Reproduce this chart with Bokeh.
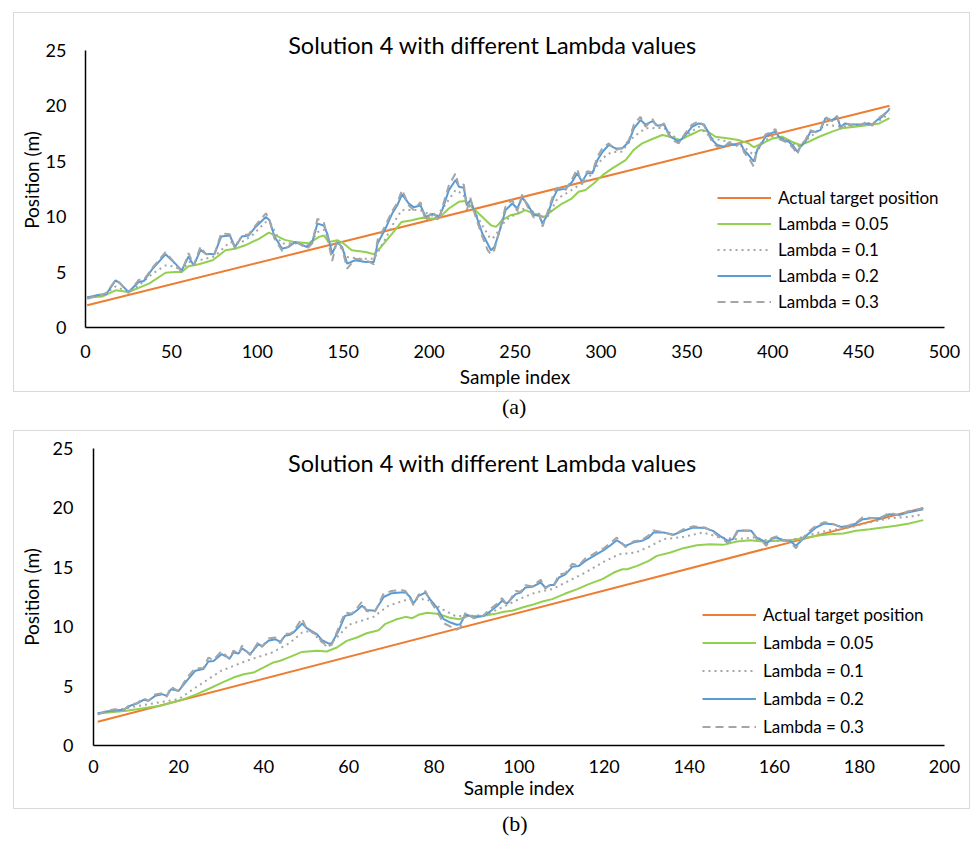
from bokeh.plotting import figure
from bokeh.models import Label, FixedTicker, Legend, LegendItem, Div
from bokeh.layouts import column
from bokeh.embed import file_html
from bokeh.resources import INLINE

TITLE = "Solution 4 with different Lambda values"
LEGEND_LABELS = ["Actual target position", "Lambda = 0.05", "Lambda = 0.1", "Lambda = 0.2", "Lambda = 0.3"]

# ---------------- Panel (a) data ----------------
a_actual_x = [1, 468]
a_actual_y = [2.0, 20.0]

a_l005_x = [1, 10, 17.5, 25, 37, 46.6, 52, 56, 60, 66, 74, 81.5, 87, 93, 101, 106.7, 110.6, 116, 122, 130, 136, 138.7,
            141.6, 146.5, 150, 155, 163, 168, 172, 178.5, 184, 190, 196, 202, 206.6, 211.5, 217.3, 221, 225, 231, 236,
            239, 242.5, 247.4, 252, 256, 261, 267, 272, 277.5, 283, 287, 291, 296, 301, 306.6, 314.4, 319, 324, 330,
            335.7, 340.5, 346, 352, 358, 362, 366.7, 374.5, 380, 386, 389, 394, 400, 405.5, 411, 416, 421, 427, 434.6,
            440, 448, 456, 462, 468]
a_l005_y = [2.7, 2.8, 3.35, 3.2, 3.95, 4.94, 5.0, 5.0, 5.52, 5.7, 6.06, 6.96, 7.1, 7.41, 8.0, 8.55, 8.3, 7.9, 7.7, 7.6,
            8.17, 8.3, 7.7, 7.87, 7.6, 6.96, 6.8, 6.6, 7.26, 8.47, 9.52, 9.67, 9.9, 9.8, 10.0, 10.73, 11.33, 11.4, 10.85,
            9.97, 9.22, 9.07, 9.67, 10.13, 10.28, 10.58, 10.28, 9.97, 10.58, 11.18, 11.63, 12.24, 12.4, 13.0, 13.74,
            14.35, 15.1, 16.0, 16.6, 17.0, 17.36, 17.2, 16.9, 17.36, 17.8, 17.7, 17.2, 17.05, 16.9, 16.6, 16.25, 16.6,
            17.05, 17.2, 16.75, 16.46, 16.75, 17.2, 17.66, 17.96, 18.1, 18.25, 18.4, 18.87]

a_l01_x = [1, 10, 17.5, 25, 31, 39, 46.6, 52, 56, 60, 66, 75, 84, 90, 97, 104.8, 108, 114, 122, 130, 135, 139, 143, 147,
           152, 160, 168, 174.6, 180, 184, 190, 195, 200, 204, 210, 215.4, 220, 222, 227, 231, 235.7, 238, 244.5, 251,
           257, 264, 269, 274.6, 283, 292, 300.8, 306, 312, 319, 326, 336.7, 345, 352, 357, 364.8, 374.5, 383, 389,
           395.8, 401.6, 409, 414.3, 422, 430.7, 440, 451, 461, 468]
a_l01_y = [2.7, 2.9, 3.7, 3.2, 3.8, 4.85, 5.6, 5.5, 5.1, 5.9, 6.06, 6.4, 7.7, 7.6, 8.3, 9.5, 9.3, 7.57, 7.6, 7.4, 8.6,
           8.8, 7.4, 7.6, 6.36, 6.2, 6.2, 8.0, 9.6, 10.58, 10.6, 10.58, 10.2, 9.97, 11.2, 12.4, 12.0, 11.2, 10.3, 9.2,
           8.0, 8.17, 9.67, 10.28, 10.9, 9.97, 9.97, 11.6, 12.4, 13.3, 15.25, 15.8, 15.85, 17.2, 17.96, 18.0, 16.9,
           17.6, 18.1, 17.05, 16.75, 16.3, 15.55, 16.9, 17.36, 16.9, 16.3, 17.2, 18.3, 18.1, 18.3, 18.55, 19.3]

a_l02_x = [1, 8, 12, 17.5, 20, 25, 31, 34, 39, 46.6, 52, 56, 60, 63, 67, 70, 75, 79, 84, 87, 91, 95, 99, 105, 107, 110,
           114.5, 118, 122, 129, 132, 135, 138.7, 140.7, 143.6, 146.5, 149.4, 152.3, 157, 163, 167.8, 170, 174.6, 178.5,
           181.4, 184.3, 188.2, 191, 195, 198, 202, 205.7, 207.6, 211.5, 215.4, 217.3, 220.2, 222, 224, 227, 231, 234,
           236, 238, 240.6, 244.5, 248.4, 251.3, 254.2, 257, 261, 264, 266, 268.7, 272.6, 274.6, 279.4, 283.3, 286.2,
           289, 292, 295, 298, 301, 304.6, 308.5, 312.4, 316.3, 319.2, 323, 326, 330, 333, 336.7, 340.5, 345.3, 349,
           353, 357, 360, 363, 364.8, 367.7, 371.6, 374.5, 378.4, 381.3, 383.3, 386, 389, 391, 393, 395.8, 398.7,
           401.6, 403.6, 406.5, 409.4, 412.3, 414.3, 416.2, 419, 422, 425, 427.8, 430.7, 434.6, 437.5, 439.4, 442.3,
           445, 448, 451, 454, 458, 460.7, 463.7, 467.5, 468]
a_l02_y = [2.7, 2.95, 3.0, 4.25, 4.0, 3.2, 4.1, 4.2, 5.3, 6.6, 5.8, 5.15, 6.4, 5.6, 7.0, 6.66, 6.6, 8.2, 8.3, 7.26, 8.2,
           8.3, 9.07, 9.97, 9.7, 8.2, 7.1, 7.25, 7.7, 7.26, 7.7, 9.37, 9.2, 8.47, 6.66, 7.7, 7.26, 5.76, 6.06, 5.9,
           5.9, 7.57, 8.92, 10.28, 11.0, 12.0, 11.17, 10.85, 11.0, 9.97, 10.25, 9.97, 10.58, 12.39, 13.3, 12.7, 12.6,
           11.0, 11.5, 10.28, 8.47, 7.57, 6.96, 7.26, 8.47, 10.58, 11.18, 10.73, 11.72, 11.18, 10.13, 10.13, 9.37,
           10.13, 11.78, 12.39, 12.5, 13.14, 13.9, 13.14, 13.9, 13.9, 15.1, 15.85, 16.46, 16.15, 16.15, 16.75, 17.96,
           18.7, 18.3, 18.6, 18.2, 18.3, 17.2, 16.75, 17.3, 18.1, 18.4, 18.3, 17.5, 16.9, 16.46, 16.3, 16.6, 16.46,
           16.6, 16.0, 15.55, 14.95, 16.0, 16.46, 17.2, 17.5, 17.66, 17.2, 16.9, 16.75, 16.3, 15.85, 16.3, 16.75,
           17.66, 17.66, 17.8, 18.87, 18.7, 19.0, 18.1, 18.4, 18.3, 18.3, 18.3, 18.4, 18.3, 18.7, 19.0, 19.6, 19.75]

a_l03_x = a_l02_x
a_l03_y = [2.6, 2.9, 3.1, 4.3, 4.0, 3.1, 4.3, 4.3, 5.4, 6.8, 5.8, 5.0, 6.7, 5.6, 7.3, 6.6, 6.6, 8.5, 8.4, 7.1, 8.3, 8.4,
           9.2, 10.3, 9.8, 8.0, 6.9, 7.3, 7.8, 7.1, 7.6, 9.8, 9.5, 8.2, 6.0, 7.9, 7.1, 5.3, 6.2, 6.1, 5.7, 7.9, 9.2,
           10.5, 11.2, 12.4, 11.0, 10.6, 11.3, 9.6, 10.5, 9.6, 10.8, 12.8, 13.9, 12.7, 12.9, 10.6, 11.7, 10.0, 8.2,
           7.0, 6.6, 7.0, 8.6, 10.9, 11.5, 10.5, 12.0, 11.0, 9.9, 10.3, 9.1, 10.3, 12.1, 12.6, 12.4, 13.4, 14.3, 12.9,
           14.1, 14.0, 15.4, 16.2, 16.6, 16.0, 16.2, 16.9, 18.3, 19.0, 18.1, 18.8, 18.0, 18.4, 17.0, 16.6, 17.5, 18.3,
           18.6, 18.2, 17.3, 16.7, 16.3, 16.2, 16.7, 16.3, 16.7, 15.8, 15.3, 14.5, 16.1, 16.6, 17.4, 17.6, 17.9, 17.0,
           16.8, 16.6, 16.1, 15.6, 16.4, 16.9, 17.8, 17.6, 17.9, 19.0, 18.6, 19.1, 17.9, 18.5, 18.2, 18.4, 18.2, 18.5,
           18.2, 18.8, 19.1, 19.6, 19.8]

# ---------------- Panel (b) data ----------------
b_actual_x = [1, 195]
b_actual_y = [2.0, 20.0]

b_l005_x = [1, 7.8, 15.7, 21.2, 24.3, 27.4, 30.6, 32.9, 35.3, 37.6, 40, 42.3, 43.9, 46.2, 49, 52.5, 54.8, 57.2, 59.5,
            61.9, 64.2, 67, 68.5, 70.9, 73.3, 74.9, 76.4, 78.4, 81.2, 83.5, 85.9, 88.2, 91.4, 94.1, 96.5, 98.4, 100.8,
            103.1, 105.5, 107.8, 110.9, 113.7, 116.4, 119.6, 122.3, 124.3, 125.4, 127.8, 130.5, 132.4, 135.6, 138.6,
            141.8, 144.9, 148, 151.2, 154.3, 157.4, 160.5, 163.6, 166.8, 169.9, 173, 176.2, 179.2, 182.4, 185.5, 188.6,
            191.7, 195]
b_l005_y = [2.69, 2.92, 3.34, 3.9, 4.32, 4.82, 5.36, 5.72, 6.0, 6.14, 6.57, 6.99, 7.13, 7.46, 7.88, 7.97, 7.91, 8.25,
            8.81, 9.09, 9.45, 9.7, 10.21, 10.58, 10.83, 10.72, 11.0, 11.17, 11.06, 10.77, 10.63, 10.91, 10.91, 11.06,
            11.25, 11.34, 11.62, 11.84, 12.12, 12.32, 12.79, 13.16, 13.58, 14.0, 14.56, 14.84, 14.84, 15.12, 15.54,
            15.96, 16.24, 16.61, 16.86, 16.94, 16.89, 17.17, 17.28, 17.17, 17.23, 17.28, 17.45, 17.65, 17.79, 17.85,
            18.07, 18.2, 18.35, 18.49, 18.69, 18.97]

b_l01_x = [1, 10, 20, 24, 30, 36, 42, 46, 49, 51, 55, 60, 65.8, 69.3, 74, 78.4, 81.9, 85, 88.2, 92.2, 96, 100, 103.9,
           107.8, 111.7, 115.6, 119.6, 123.5, 127.4, 130.5, 134, 138.6, 143.3, 147.2, 151.2, 155, 159, 163.6, 168.3,
           173, 177.7, 182.4, 187.1, 191.7, 195]
b_l01_y = [2.7, 3.3, 3.9, 4.88, 6.29, 7.13, 7.83, 8.6, 9.5, 9.65, 8.25, 10.16, 10.83, 11.76, 12.32, 12.3, 11.48, 10.91,
           10.9, 11.0, 11.62, 12.32, 12.88, 13.16, 13.86, 14.56, 15.4, 16.1, 16.24, 16.72, 17.37, 17.56, 17.93, 17.51,
           17.37, 17.51, 17.23, 17.23, 17.74, 18.13, 18.35, 18.77, 19.13, 19.24, 19.47]

b_l02_x = [1, 3, 5, 7, 8.6, 10.2, 11.75, 12.9, 14.5, 16.1, 17.2, 18.2, 20, 21.9, 23.9, 25.8, 27, 28.2, 30.1, 32, 32.9,
           34.1, 34.9, 36.8, 38.8, 39.6, 41.1, 42.7, 43.9, 45, 46.2, 47, 49, 50.1, 52.5, 53.7, 55.2, 56, 57.6, 59.1,
           60.7, 62, 63.1, 64.2, 66.2, 68.2, 70.1, 72.1, 73.3, 74.4, 75.2, 76.4, 78, 79.1, 80.7, 82.3, 83.9, 85.4, 86.2,
           87.4, 89.4, 91.7, 92.9, 94.9, 96, 97.2, 99.2, 100.4, 101.5, 103.1, 105.1, 106.2, 107.4, 108.2, 109.4, 110.9,
           112.5, 114, 115.6, 116.8, 118.3, 119.9, 121.5, 123, 125, 127, 128.9, 130.5, 131.6, 134, 136.3, 138.6, 141,
           143.7, 145.6, 147.2, 149.1, 150.3, 151.5, 153, 154.6, 155.8, 157.4, 158.1, 159.3, 160.5, 162, 163.6, 165.1,
           166.3, 167.9, 169.8, 171.8, 173.8, 175.7, 177.7, 179.2, 180.8, 182.8, 184.7, 187.1, 189.4, 191.3, 193.3, 195]
b_l02_y = [2.7, 2.86, 2.95, 3.0, 3.34, 3.53, 3.85, 3.77, 4.18, 4.32, 4.18, 4.74, 4.6, 5.44, 6.29, 6.43, 7.07, 7.12,
           7.69, 7.33, 7.83, 7.74, 8.19, 7.69, 8.53, 8.33, 8.81, 8.95, 8.73, 9.23, 9.32, 9.51, 10.27, 9.88, 9.37, 8.87,
           8.59, 8.6, 9.65, 10.91, 11.05, 11.4, 11.76, 11.4, 11.34, 12.5, 12.82, 12.87, 12.9, 12.5, 11.95, 12.6, 12.87,
           12.3, 11.6, 10.63, 10.35, 10.16, 10.2, 11.05, 10.77, 10.9, 11.2, 11.76, 12.18, 11.95, 12.74, 12.87, 13.3,
           13.36, 13.72, 13.3, 13.5, 13.5, 14.14, 14.4, 15.04, 15.1, 15.54, 15.8, 16.1, 16.44, 16.86, 17.28, 16.8,
           17.1, 17.23, 17.5, 17.93, 17.93, 17.74, 18.07, 18.35, 18.3, 18.07, 17.65, 17.23, 17.37, 18.07, 18.07, 18.07,
           17.51, 17.23, 16.96, 17.37, 17.51, 17.3, 17.23, 16.81, 17.23, 17.79, 18.35, 18.69, 18.63, 18.4, 18.5, 18.69,
           19.05, 19.13, 19.13, 19.47, 19.4, 19.61, 19.75, 19.89]

b_l03_x = b_l02_x
b_l03_y = [2.6, 2.9, 3.05, 2.95, 3.45, 3.55, 4.0, 3.75, 4.3, 4.4, 4.1, 4.95, 4.55, 5.7, 6.5, 6.5, 7.4, 7.2, 7.95, 7.25,
           8.0, 7.7, 8.4, 7.6, 8.75, 8.3, 9.0, 9.1, 8.6, 9.4, 9.4, 9.6, 10.7, 9.8, 9.3, 8.7, 8.35, 8.5, 9.9, 11.2, 11.1,
           11.6, 12.1, 11.3, 11.3, 12.8, 13.0, 13.1, 13.0, 12.4, 11.8, 12.7, 13.0, 12.2, 11.3, 10.3, 10.0, 9.75, 9.9,
           11.2, 10.7, 10.95, 11.4, 11.95, 12.4, 11.85, 13.0, 12.95, 13.5, 13.4, 13.95, 13.2, 13.6, 13.5, 14.4, 14.5,
           15.3, 15.15, 15.75, 15.95, 16.3, 16.6, 17.05, 17.5, 16.7, 17.2, 17.3, 17.7, 18.1, 17.95, 17.7, 18.2, 18.45,
           18.35, 18.0, 17.5, 17.05, 17.4, 18.2, 18.1, 18.1, 17.4, 17.1, 16.8, 17.45, 17.6, 17.3, 17.15, 16.6, 17.3,
           17.95, 18.5, 18.8, 18.65, 18.35, 18.55, 18.75, 19.2, 19.15, 19.1, 19.6, 19.35, 19.7, 19.8, 20.0]

a_xticks = [0, 50, 100, 150, 200, 250, 300, 350, 400, 450, 500]
b_xticks = [0, 20, 40, 60, 80, 100, 120, 140, 160, 180, 200]
yticks = [0, 5, 10, 15, 20, 25]

FONT = "Lato"
COLORS = ["#ED7D31", "#92D050", "#A5A5A5", "#5B9BD5", "#A5A5A5"]
DASHES = ["solid", "solid", "2 4", "solid", "8 5"]


def make_panel(series, xmax, ymax, xticks, title_xy, min_borders, height, legend_loc, legend_spacing,
               tick_standoff, ylab_standoff, xtick_standoff, xlab_standoff):
    left, top, bottom, right = min_borders
    p = figure(width=957, height=height, x_range=(0, xmax), y_range=(0, ymax),
               output_backend="svg", toolbar_location=None, frame_align=False,
               min_border_left=left, min_border_top=top, min_border_bottom=bottom, min_border_right=right,
               styles={"border": "1px solid #d9d9d9"}, margin=(0, 0, 0, 13))
    p.outline_line_color = None
    p.grid.visible = False
    for ax in (p.xaxis[0], p.yaxis[0]):
        ax.axis_line_color = "black"
        ax.axis_line_width = 1.5
        ax.major_tick_line_color = None
        ax.minor_tick_line_color = None
        ax.major_tick_out = 0
        ax.major_tick_in = 0
        ax.minor_tick_out = 0
        ax.minor_tick_in = 0
        ax.major_label_text_font = FONT
        ax.major_label_text_font_size = "18px"
        ax.major_label_text_color = "black"
        ax.axis_label_text_font = FONT
        ax.axis_label_text_font_size = "19px"
        ax.axis_label_text_font_style = "normal"
        ax.axis_label_text_color = "black"
    p.xaxis.ticker = FixedTicker(ticks=xticks)
    p.yaxis.ticker = FixedTicker(ticks=yticks)
    p.yaxis.bounds = (0, 25)
    p.xaxis.axis_label = "Sample index"
    p.yaxis.axis_label = "Position (m)"
    p.xaxis.major_label_standoff = xtick_standoff
    p.xaxis.axis_label_standoff = xlab_standoff
    p.yaxis.major_label_standoff = tick_standoff
    p.yaxis.axis_label_standoff = ylab_standoff

    items = []
    for (xs, ys), lab, col, dash in zip(series, LEGEND_LABELS, COLORS, DASHES):
        r = p.line(xs, ys, line_color=col, line_width=2, line_dash=dash)
        items.append(LegendItem(label=lab, renderers=[r]))
    leg = Legend(items=items, location=legend_loc, padding=0, margin=0, border_line_color=None,
                 background_fill_alpha=0, glyph_width=54, glyph_height=21, label_height=21,
                 spacing=legend_spacing, label_standoff=7, label_text_font=FONT,
                 label_text_font_size="17px", label_text_color="black")
    p.add_layout(leg)
    p.add_layout(Label(x=title_xy[0], y=title_xy[1], text=TITLE, text_align="center", text_baseline="middle",
                       text_font=FONT, text_font_size="23.5px", text_color="black"))
    return p


pa = make_panel([(a_actual_x, a_actual_y), (a_l005_x, a_l005_y), (a_l01_x, a_l01_y), (a_l02_x, a_l02_y),
                 (a_l03_x, a_l03_y)], 500, 26.6, a_xticks, (237, 25.43), (71, 19, 66, 27), 380, (632, 15), 5,
                19, 0, 17, 4)
pb = make_panel([(b_actual_x, b_actual_y), (b_l005_x, b_l005_y), (b_l01_x, b_l01_y), (b_l02_x, b_l02_y),
                 (b_l03_x, b_l03_y)], 200, 25, b_xticks, (93.8, 23.8), (79, 17, 65, 27), 379, (609, 8), 7,
                20, 7, 14, 0)
pa.margin = (12, 0, 0, 13)

cap_style = {"font-family": "Liberation Serif", "font-size": "22px", "line-height": "30px", "color": "black"}
cap_a = Div(text='<span style="margin-left:489px">(a)</span>', width=957, height=38, margin=(0, 0, 0, 13),
            styles=cap_style)
cap_b = Div(text='<span style="margin-left:489px">(b)</span>', width=957, height=26, margin=(0, 0, 0, 13),
            styles=cap_style)

layout = column(pa, cap_a, pb, cap_b, spacing=0)
open("out.html", "w").write(file_html(layout, INLINE))
